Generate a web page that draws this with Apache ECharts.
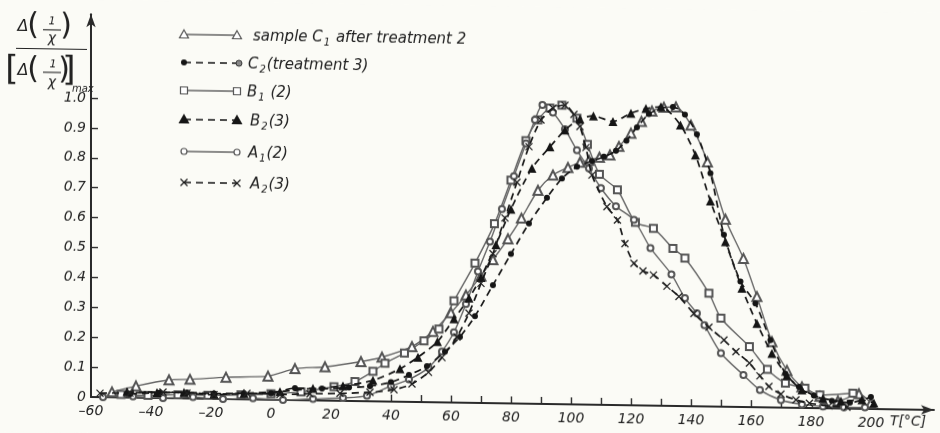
<!DOCTYPE html>
<html>
<head>
<meta charset="utf-8">
<script src="https://cdn.jsdelivr.net/npm/echarts@6/dist/echarts.min.js"></script>
<style>
  html, body { margin: 0; padding: 0; background: #fbfbf6; }
  #chart { width: 940px; height: 433px; transform: skewY(0.88deg); transform-origin: 91px 397px; }
</style>
</head>
<body>
<div id="chart"></div>
<script>
// Normalised susceptibility change Δ(1/χ)/[Δ(1/χ)]max versus temperature T [°C]
// Each series: [temperature, normalised value]

const sampleC1 = [[-53,0.018],[-45,0.039],[-34,0.061],[-27,0.064],[-15,0.073],[-1,0.079],[8,0.105],[18,0.113],[30,0.132],[37,0.148],[47,0.185],[54,0.237],[60,0.30],[65,0.36],[70,0.425],[74,0.48],[79,0.55],[83.5,0.62],[89,0.714],[94,0.766],[99,0.792],[103,0.81],[106,0.817],[109.5,0.828],[113,0.836],[116,0.865],[120,0.91],[123.5,0.95],[127,0.985],[131,0.998],[135,1.0],[140,0.94],[145.5,0.818],[151.5,0.627],[157.5,0.497],[162,0.37],[167,0.22],[172,0.125],[177,0.07],[183,0.039],[189,0.025],[196,0.05],[200,0.02]];

const sampleC2 = [[-47,0.012],[-37,0.018],[-28,0.02],[-19,0.018],[-9,0.02],[0,0.022],[8,0.04],[17,0.04],[26,0.045],[33,0.05],[40,0.065],[46,0.09],[52,0.12],[58,0.17],[63,0.22],[68,0.29],[74,0.395],[80,0.5],[86,0.603],[92,0.69],[97,0.755],[102,0.795],[107,0.815],[111,0.83],[115,0.85],[118.5,0.885],[122,0.93],[126,0.975],[130,0.995],[134,1.0],[138,0.975],[142,0.91],[146.5,0.78],[151,0.575],[156.5,0.42],[161.5,0.347],[166.5,0.225],[171.5,0.114],[176,0.07],[181,0.042],[187,0.025],[193,0.02],[200,0.04]];

const sampleB1 = [[-50,0.01],[-41,0.008],[-31,0.012],[-21,0.012],[-10,0.015],[0,0.02],[10,0.028],[21,0.047],[28,0.065],[34,0.1],[38,0.128],[44.5,0.163],[51,0.205],[56,0.245],[61,0.34],[68,0.467],[74.5,0.60],[80,0.747],[85,0.88],[89,0.95],[93,0.99],[97,1.0],[102,0.957],[105.5,0.87],[109.5,0.771],[115.5,0.72],[121.5,0.612],[127.5,0.593],[134,0.527],[138,0.495],[146,0.379],[150,0.296],[159.5,0.202],[165.5,0.127],[171.5,0.082],[178,0.066],[183,0.044],[194,0.052]];

const sampleB2 = [[-48,0.02],[-38,0.018],[-29,0.02],[-19,0.016],[-9,0.02],[3,0.028],[14,0.04],[24,0.05],[34,0.07],[43,0.11],[49,0.15],[55.5,0.203],[61,0.28],[66,0.35],[70,0.42],[75,0.53],[80,0.65],[87,0.788],[93,0.86],[98,0.917],[103,0.955],[107.5,0.966],[114,0.948],[120,0.977],[125,0.993],[130,1.0],[136.5,0.94],[141.5,0.84],[146.5,0.687],[151.5,0.552],[157,0.397],[162,0.28],[167,0.181],[172,0.108],[177,0.06],[184,0.033],[190,0.025],[197,0.03],[201,0.02]];

const sampleA1 = [[-56,0.0],[-46,0.004],[-36,0.0],[-26,0.005],[-16,0.0],[-6,0.004],[4,0.0],[14,0.005],[24,0.01],[32,0.018],[40,0.052],[46,0.075],[52.5,0.115],[57,0.17],[61,0.235],[65,0.33],[69,0.44],[73,0.54],[77,0.65],[81,0.76],[85,0.87],[88,0.95],[90.5,1.0],[94,0.975],[98,0.92],[102,0.85],[106,0.79],[110,0.725],[115,0.665],[121,0.62],[126.5,0.527],[133.5,0.44],[138,0.361],[142,0.311],[144.5,0.272],[150,0.179],[157.5,0.107],[163,0.058],[170,0.025],[177,0.012],[184,0.006],[191,0.004],[198,0.005]];

const sampleA2 = [[-57,0.013],[-47,0.016],[-36,0.02],[-28,0.018],[-19,0.014],[-8,0.02],[3,0.018],[13,0.022],[23,0.025],[33,0.03],[41,0.04],[47,0.06],[52.5,0.1],[57,0.15],[62,0.22],[66,0.3],[70,0.4],[74,0.5],[78,0.62],[82,0.74],[86,0.86],[90,0.95],[94,0.99],[98,1.0],[101,0.97],[103,0.93],[105,0.86],[107,0.768],[112,0.663],[115.5,0.619],[118,0.54],[121,0.475],[124,0.45],[127.5,0.437],[132,0.40],[136,0.366],[141,0.31],[146,0.265],[151,0.223],[155,0.185],[159.5,0.147],[163,0.105],[166,0.07],[170,0.045],[175,0.027],[179.5,0.016],[186,0.008],[192,0.005]];

// axis ticks and labels
const xLabelValues = [-60,-40,-20,0,20,40,60,80,100,120,140,160,180,200];
const xTickValues = [40,50,60,70,80,90,100,110,120,130,140,150,160,170];
const yLabelValues = [0,0.1,0.2,0.3,0.4,0.5,0.6,0.7,0.8,0.9,1.0];
const yTickValues = [0.1,0.2,0.3,0.4,0.5,0.6,0.7,0.8,0.9,1.0];

// legend texts (rich-text markup for subscripts)
const legendTexts = [
  '{n|sample C}{s|1}{n| after treatment 2}',
  '{n|C}{s|2}{n|(treatment 3)}',
  '{n|B}{s|1}{n| (2)}',
  '{n|B}{s|2}{n|(3)}',
  '{n|A}{s|1}{n|(2)}',
  '{n|A}{s|2}{n|(3)}'
];

const FONT = '"DejaVu Sans", "Liberation Sans", sans-serif';
const INK = '#222';
const GRAY = '#666';
const crossPath = 'path://M0,0L10,10M10,0L0,10';

function lineSeries(name, data, symbol, size, dashed, filled) {
  const col = dashed ? '#151515' : GRAY;
  const mcol = filled ? '#151515' : '#555';
  return {
    name, type: 'line', data, symbol, symbolSize: size,
    smooth: 0.25, showSymbol: true, z: dashed ? 3 : 2,
    lineStyle: { color: col, width: dashed ? 1.7 : 1.4, type: dashed ? [7, 5] : 'solid' },
    itemStyle: symbol === crossPath
      ? { color: 'rgba(0,0,0,0)', borderColor: '#222', borderWidth: 1.3 }
      : { color: mcol, borderColor: mcol, borderWidth: filled ? 0 : 1.2 },
    emphasis: { disabled: true }
  };
}

// hand-built legend: marker — line — marker, then label
const legendY = [33, 61, 89, 118, 150, 181];
const legendTextX = [253, 248, 247, 250, 248, 250];
const legendDefs = [
  { m: 'tri', dash: false }, { m: 'dot', dash: true }, { m: 'sq', dash: false },
  { m: 'ftri', dash: true }, { m: 'circ', dash: false }, { m: 'x', dash: true }
];

function marker(kind, cx, cy) {
  if (kind === 'tri' || kind === 'ftri') {
    return { type: 'polygon', shape: { points: [[cx, cy - 4.5], [cx + 4.5, cy + 3.5], [cx - 4.5, cy + 3.5]] },
      style: { fill: kind === 'ftri' ? '#151515' : '#fff', stroke: kind === 'ftri' ? '#151515' : '#555', lineWidth: 1.2 }, z: 10 };
  }
  if (kind === 'sq') {
    return { type: 'rect', shape: { x: cx - 3.5, y: cy - 3.5, width: 7, height: 7 },
      style: { fill: '#fff', stroke: '#555', lineWidth: 1.2 }, z: 10 };
  }
  if (kind === 'circ') {
    return { type: 'circle', shape: { cx, cy, r: 3 }, style: { fill: '#fff', stroke: '#555', lineWidth: 1.2 }, z: 10 };
  }
  if (kind === 'dot') {
    return { type: 'circle', shape: { cx, cy, r: 3 }, style: { fill: '#151515' }, z: 10 };
  }
  return { type: 'group', z: 10, children: [
    { type: 'line', shape: { x1: cx - 3.5, y1: cy - 3.5, x2: cx + 3.5, y2: cy + 3.5 }, style: { stroke: '#222', lineWidth: 1.2 } },
    { type: 'line', shape: { x1: cx + 3.5, y1: cy - 3.5, x2: cx - 3.5, y2: cy + 3.5 }, style: { stroke: '#222', lineWidth: 1.2 } }
  ] };
}

const graphics = [];
legendDefs.forEach((d, i) => {
  const y = legendY[i];
  graphics.push({ type: 'line', shape: { x1: 184, y1: y, x2: 237, y2: y },
    style: { stroke: d.dash ? '#151515' : GRAY, lineWidth: d.dash ? 1.7 : 1.4, lineDash: d.dash ? [7, 5] : null }, z: 9 });
  graphics.push(marker(d.m, 184, y));
  if (d.m === 'dot') {
    graphics.push({ type: 'circle', shape: { cx: 239, cy: y, r: 3 }, style: { fill: '#888', stroke: '#333', lineWidth: 1 }, z: 10 });
  } else {
    graphics.push(marker(d.m, 237, y));
  }
  graphics.push({ type: 'text', x: legendTextX[i], y: y + 1, z: 10,
    style: { text: legendTexts[i], fill: INK, align: 'left', verticalAlign: 'middle',
      textAlign: 'left', textVerticalAlign: 'middle',
      rich: {
        n: { fontFamily: FONT, fontStyle: 'italic', fontSize: 15, lineHeight: 20, verticalAlign: 'middle', fill: INK },
        s: { fontFamily: FONT, fontStyle: 'italic', fontSize: 10, lineHeight: 10, verticalAlign: 'bottom', fill: INK, padding: [0, 1, 0, 1] }
      } } });
});

// axis title: Δ(1/χ) over [Δ(1/χ)]max
function t(x, y, text, font, align) {
  return { type: 'text', x, y, z: 10, style: { text, font, fill: INK, align: align || 'center', verticalAlign: 'middle',
    textAlign: align || 'center', textVerticalAlign: 'middle' } };
}
function bar(x1, x2, y, w) {
  return { type: 'line', shape: { x1, y1: y, x2, y2: y }, style: { stroke: INK, lineWidth: w || 1.1 }, z: 10 };
}
const fI = s => 'italic ' + s + 'px ' + FONT;
const fN = s => s + 'px ' + FONT;
graphics.push(
  t(23, 28, 'Δ', fI(16)), t(33, 27, '(', fN(30)), t(52, 22, '1', fI(11)), bar(43, 61, 30.5),
  t(52, 39, 'χ', fI(14)), t(66, 27, ')', fN(30)),
  bar(16, 87, 49.5, 1.2),
  t(12, 72, '[', fN(34)), t(23, 72, 'Δ', fI(16)), t(33, 71, '(', fN(30)), t(53, 65, '1', fI(11)), bar(43, 61, 73),
  t(52, 83, 'χ', fI(14)), t(64, 71, ')', fN(30)), t(69, 72, ']', fN(34)), t(72, 89, 'max', fI(10), 'left'),
  t(890, 409, 'T[°C]', fI(14), 'left')
);

const chart = echarts.init(document.getElementById('chart'), null, { renderer: 'canvas' });
chart.setOption({
  backgroundColor: '#fbfbf6',
  animation: false,
  grid: { left: 91, right: 6, top: 14.28, bottom: 36, containLabel: false },
  xAxis: {
    type: 'value', min: -60, max: 221,
    axisLine: { show: true, onZero: false, symbol: ['none', 'arrow'], symbolSize: [7, 13], lineStyle: { color: '#2a2a2a', width: 2 } },
    axisTick: { show: true, inside: true, length: 7, customValues: xTickValues, lineStyle: { color: '#2a2a2a', width: 1.4 } },
    axisLabel: { show: true, customValues: xLabelValues, margin: 7, color: INK, fontFamily: FONT, fontStyle: 'italic', fontSize: 14,
      formatter: v => v < 0 ? '–' + Math.abs(v) : String(v) },
    splitLine: { show: false }
  },
  yAxis: {
    type: 'value', min: 0, max: 1.28,
    axisLine: { show: true, onZero: false, symbol: ['none', 'arrow'], symbolSize: [7, 13], lineStyle: { color: '#2a2a2a', width: 2 } },
    axisTick: { show: true, inside: true, length: 7, customValues: yTickValues, lineStyle: { color: '#2a2a2a', width: 1.4 } },
    axisLabel: { show: true, customValues: yLabelValues, margin: 5, color: INK, fontFamily: FONT, fontStyle: 'italic', fontSize: 14,
      formatter: v => v === 0 ? '0' : v.toFixed(1) },
    splitLine: { show: false }
  },
  series: [
    lineSeries('sample C1 after treatment 2', sampleC1, 'emptyTriangle', 9, false, false),
    lineSeries('C2 (treatment 3)', sampleC2, 'circle', 6, true, true),
    lineSeries('B1 (2)', sampleB1, 'emptyRect', 7, false, false),
    lineSeries('B2 (3)', sampleB2, 'triangle', 9, true, true),
    lineSeries('A1 (2)', sampleA1, 'emptyCircle', 6, false, false),
    lineSeries('A2 (3)', sampleA2, crossPath, 7, true, false)
  ],
  graphic: { elements: graphics }
});
</script>
</body>
</html>
